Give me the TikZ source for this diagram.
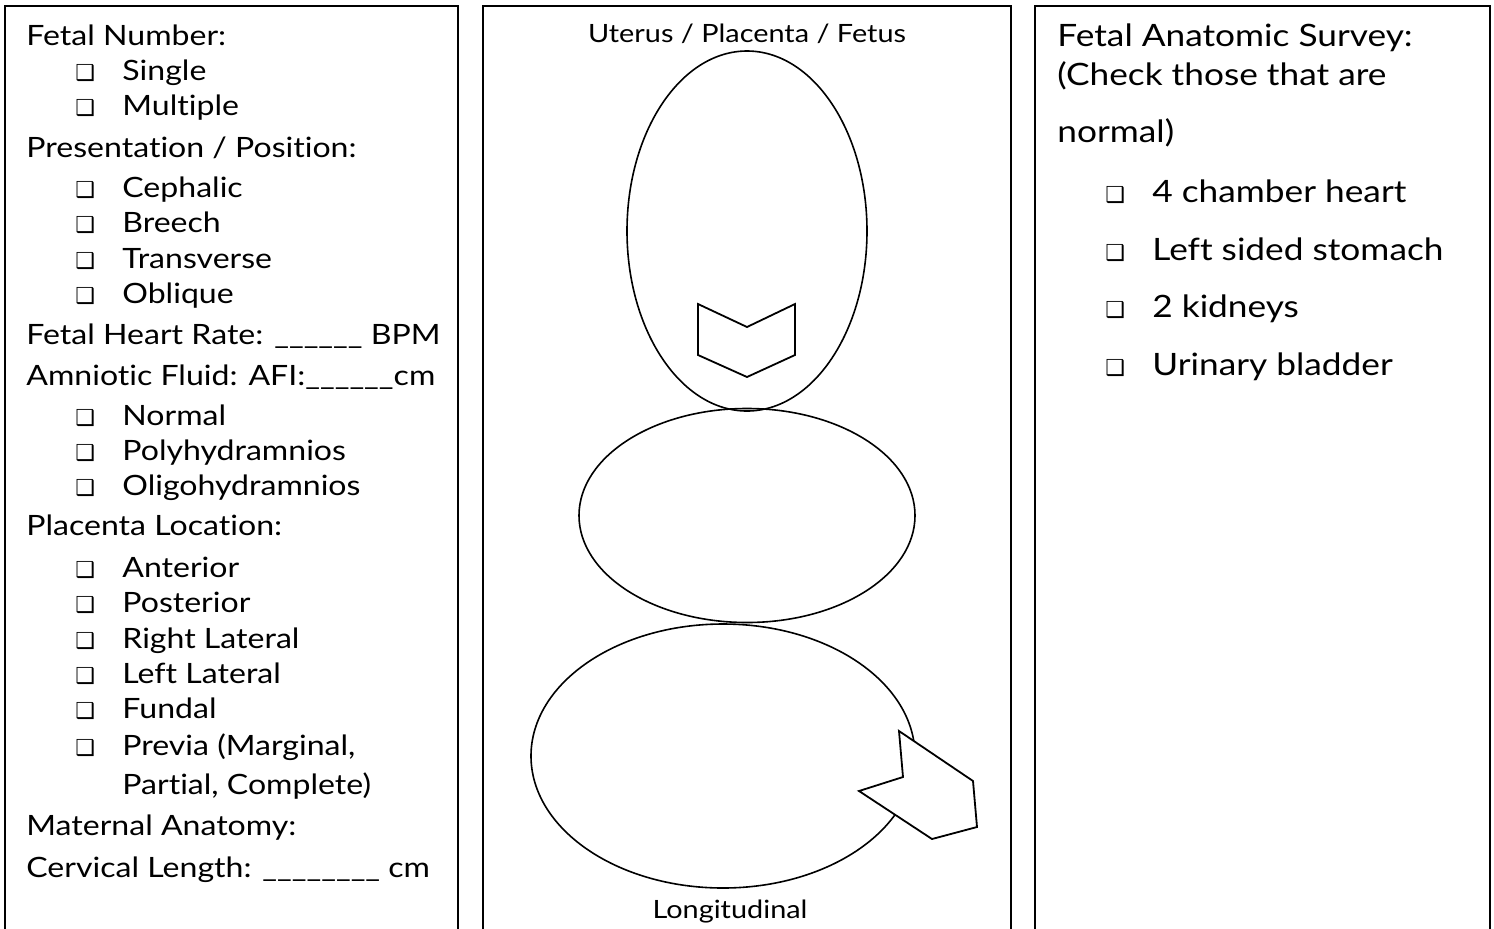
\documentclass[tikz,border=0pt]{standalone}
\usepackage{fontspec}
\setmainfont{Lato}[FakeStretch=1.145, Ligatures={NoCommon}]
\newfontfamily\symfont{DejaVu Sans}
\newcommand{\cbox}{{\symfont\fontsize{11}{11}\selectfont ❑}}
\newcommand{\chk}[1]{\makebox[23.5pt][l]{\cbox}#1}

\begin{document}
\begin{tikzpicture}[x=0.5pt, y=-0.5pt, line join=miter,
    panel/.style={line width=1pt},
    lbl/.style={anchor=base west, inner sep=0pt, font=\fontsize{14}{16}\selectfont},
    rlbl/.style={anchor=base west, inner sep=0pt, font=\fontsize{15.4}{17}\selectfont},
    midlbl/.style={anchor=base, inner sep=0pt, font=\fontsize{12.6}{14}\selectfont},
    organ/.style={line width=0.8pt},
    chevron/.style={line width=0.9pt, fill=white}]
  \useasboundingbox (0,0) rectangle (1494,928);
  \clip (0,0) rectangle (1494,928);

  % 1. three panels
  \draw[panel] (5,950) -- (5,6) -- (458,6) -- (458,950);
  \draw[panel] (483,950) -- (483,6) -- (1011,6) -- (1011,950);
  \draw[panel] (1035,950) -- (1035,6) -- (1490,6) -- (1490,950);

  % 2. left panel
  \node[lbl] (fetnum) at (26,45) {Fetal Number:};
  \node[lbl] (single) at (75,80) {\chk{Single}};
  \node[lbl] (multi) at (75,115) {\chk{Multiple}};
  \node[lbl] (pres) at (26,157) {Presentation / Position:};
  \node[lbl] (ceph) at (75,197) {\chk{Cephalic}};
  \node[lbl] (breech) at (75,232) {\chk{Breech}};
  \node[lbl] (trans) at (75,268) {\chk{Transverse}};
  \node[lbl] (obl) at (75,303) {\chk{Oblique}};
  \node[lbl] (fhr) at (26,344) {Fetal Heart Rate: \_\_\_\_\_\_ BPM};
  \node[lbl] (afi) at (26,385) {Amniotic Fluid: AFI:\_\_\_\_\_\_cm};
  \node[lbl] (normal) at (75,425) {\chk{Normal}};
  \node[lbl] (poly) at (75,460) {\chk{Polyhydramnios}};
  \node[lbl] (oligo) at (75,495) {\chk{Oligohydramnios}};
  \node[lbl] (placloc) at (26,535) {Placenta Location:};
  \node[lbl] (ant) at (75,577) {\chk{Anterior}};
  \node[lbl] (post) at (75,612) {\chk{Posterior}};
  \node[lbl] (rlat) at (75,648) {\chk{Right Lateral}};
  \node[lbl] (llat) at (75,683) {\chk{Left Lateral}};
  \node[lbl] (fundal) at (75,718) {\chk{Fundal}};
  \node[lbl] (previa) at (75,755) {\chk{Previa (Marginal,}};
  \node[lbl] (previb) at (122,794) {Partial, Complete)};
  \node[lbl] (matan) at (26,835) {Maternal Anatomy:};
  \node[lbl] (cerv) at (26,877) {Cervical Length: \_\_\_\_\_\_\_\_ cm};

  % 3. middle panel: uterus / placenta / fetus sketch
  \node[midlbl] (title) at (747,42) {Uterus / Placenta / Fetus};
  \draw[organ] (747,231) ellipse [x radius=60pt, y radius=90pt];
  \draw[organ] (747,515.5) ellipse [x radius=84pt, y radius=53.5pt];
  \draw[organ] (723,756) ellipse [x radius=96pt, y radius=66pt];
  \filldraw[chevron] (698,304) -- (747,327) -- (795,304) -- (795,355)
    -- (747,377) -- (698,355) -- cycle;
  \filldraw[chevron] (899,731) -- (973,781) -- (977,827) -- (932,839)
    -- (859,791) -- (903,777) -- cycle;
  \node[midlbl] (longi) at (730,918) {Longitudinal};

  % 4. right panel
  \node[rlbl] (survey) at (1057,46) {Fetal Anatomic Survey:};
  \node[rlbl] (check) at (1057,85) {(Check those that are};
  \node[rlbl] (norm) at (1057,142) {normal)};
  \node[rlbl] (heart) at (1105,202) {\chk{4 chamber heart}};
  \node[rlbl] (stom) at (1105,260) {\chk{Left sided stomach}};
  \node[rlbl] (kid) at (1105,317) {\chk{2 kidneys}};
  \node[rlbl] (blad) at (1105,375) {\chk{Urinary bladder}};
\end{tikzpicture}
\end{document}
